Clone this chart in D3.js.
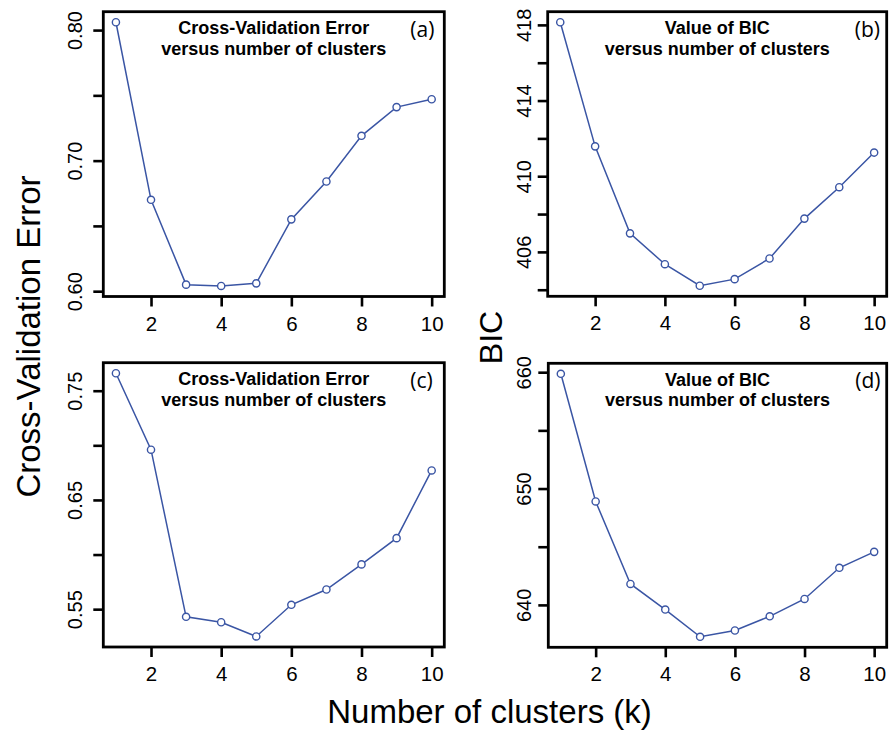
<!DOCTYPE html>
<html>
<head>
<meta charset="utf-8">
<script src="https://cdn.jsdelivr.net/npm/d3@7"></script>
<style>
  body { margin: 0; background: #fff; }
  svg { display: block; }
</style>
</head>
<body>
<svg id="chart"></svg>
<script>
const width = 891, height = 740

// number of clusters k
const kValues = [1, 2, 3, 4, 5, 6, 7, 8, 9, 10]
const xTicks = [2, 4, 6, 8, 10]

// panel values
const cvErrorA = [0.806, 0.670, 0.605, 0.604, 0.606, 0.655, 0.684, 0.719, 0.741, 0.747]
const bicB = [418.14, 411.58, 406.98, 405.35, 404.21, 404.56, 405.65, 407.76, 409.42, 411.25]
const cvErrorC = [0.766, 0.696, 0.543, 0.538, 0.525, 0.554, 0.568, 0.591, 0.615, 0.677]
const bicD = [659.86, 648.89, 641.80, 639.60, 637.26, 637.80, 639.02, 640.51, 643.19, 644.56]

const yTicksA = [0.60, 0.65, 0.70, 0.75, 0.80]
const yLabelsA = [0.60, 0.70, 0.80]
const yTicksB = [404, 406, 408, 410, 412, 414, 416, 418]
const yLabelsB = [406, 410, 414, 418]
const yTicksC = [0.55, 0.60, 0.65, 0.70, 0.75]
const yLabelsC = [0.55, 0.65, 0.75]
const yTicksD = [640, 645, 650, 655, 660]
const yLabelsD = [640, 650, 660]

const titleCV = ["Cross-Validation Error", "versus number of clusters"]
const titleBIC = ["Value of BIC", "versus number of clusters"]

const lineColor = "#3a55a4"

const panels = [
    { tag: "(a)", values: cvErrorA, ticks: yTicksA, labels: yLabelsA, fmt: d3.format(".2f"), title: titleCV,
      box: { left: 103.3, right: 444.3, top: 11.7, bottom: 296.5 }, labelGap: 21.6 },
    { tag: "(b)", values: bicB, ticks: yTicksB, labels: yLabelsB, fmt: d3.format("d"), title: titleBIC,
      box: { left: 547.7, right: 886.7, top: 11.7, bottom: 296.3 }, labelGap: 17 },
    { tag: "(c)", values: cvErrorC, ticks: yTicksC, labels: yLabelsC, fmt: d3.format(".2f"), title: titleCV,
      box: { left: 103.3, right: 444.3, top: 362.7, bottom: 647 }, labelGap: 21.6 },
    { tag: "(d)", values: bicD, ticks: yTicksD, labels: yLabelsD, fmt: d3.format("d"), title: titleBIC,
      box: { left: 548.3, right: 886.7, top: 363.3, bottom: 647.3 }, labelGap: 17 }
]

const svg = d3.select("#chart")
    .attr("width", width)
    .attr("height", height)
    .style("font-family", "'Liberation Sans', Arial, sans-serif")

// R style: pad the data range by 4% on each side
function padded(ext) {
    let d = (ext[1] - ext[0]) * 0.04
    return [ext[0] - d, ext[1] + d]
}

panels.forEach(p => {
    let b = p.box
    let x = d3.scaleLinear().domain(padded(d3.extent(kValues))).range([b.left, b.right])
    let y = d3.scaleLinear().domain(padded(d3.extent(p.values))).range([b.bottom, b.top])

    let g = svg.append("g")

    // x axis
    let xa = g.append("g")
        .attr("transform", `translate(0,${b.bottom})`)
        .call(d3.axisBottom(x).tickValues(xTicks).tickSize(10).tickPadding(4).tickFormat(d3.format("d")))
    xa.select(".domain").remove()
    xa.selectAll(".tick line").attr("stroke", "#000").attr("stroke-width", 2.6)
    xa.selectAll(".tick text")
        .attr("y", 34).attr("dy", null)
        .attr("font-size", 20.5).attr("fill", "#000")
        .style("font-family", "'Liberation Sans', Arial, sans-serif")

    // y axis, labels rotated like R's default
    let ya = g.append("g")
        .attr("transform", `translate(${b.left},0)`)
        .call(d3.axisLeft(y).tickValues(p.ticks).tickSize(10)
            .tickFormat(d => p.labels.some(v => Math.abs(v - d) < 1e-9) ? p.fmt(d) : ""))
    ya.select(".domain").remove()
    ya.selectAll(".tick line").attr("stroke", "#000").attr("stroke-width", 2.6)
    ya.selectAll(".tick text")
        .attr("x", null).attr("dy", null)
        .attr("transform", `translate(${-p.labelGap},0) rotate(-90)`)
        .attr("text-anchor", "middle")
        .attr("font-size", 20).attr("fill", "#000")
        .style("font-family", "'Liberation Sans', Arial, sans-serif")

    // series
    let line = d3.line()
        .x((d, i) => x(kValues[i]))
        .y(d => y(d))
    g.append("path")
        .datum(p.values)
        .attr("d", line)
        .attr("fill", "none")
        .attr("stroke", lineColor)
        .attr("stroke-width", 1.5)

    g.append("g")
        .selectAll("circle")
        .data(p.values)
        .enter()
        .append("circle")
        .attr("cx", (d, i) => x(kValues[i]))
        .attr("cy", d => y(d))
        .attr("r", 3.6)
        .attr("fill", "#fff")
        .attr("stroke", lineColor)
        .attr("stroke-width", 1.4)

    // frame
    g.append("rect")
        .attr("x", b.left).attr("y", b.top)
        .attr("width", b.right - b.left).attr("height", b.bottom - b.top)
        .attr("fill", "none")
        .attr("stroke", "#000")
        .attr("stroke-width", 2.8)

    // title inside the frame
    let cx = (b.left + b.right) / 2
    g.append("text")
        .attr("x", cx).attr("y", b.top + 22.5)
        .attr("text-anchor", "middle")
        .attr("font-weight", "bold")
        .attr("font-size", 18)
        .text(p.title[0])
    g.append("text")
        .attr("x", cx).attr("y", b.top + 43)
        .attr("text-anchor", "middle")
        .attr("font-weight", "bold")
        .attr("font-size", 18)
        .text(p.title[1])

    g.append("text")
        .attr("x", b.left + 307).attr("y", b.top + 25)
        .attr("font-size", 21)
        .style("font-family", "'Open Sans', sans-serif")
        .text(p.tag)
})

// shared axis titles
svg.append("text")
    .attr("transform", "translate(39.5,336.5) rotate(-90)")
    .attr("text-anchor", "middle")
    .attr("font-size", 33)
    .text("Cross-Validation Error")

svg.append("text")
    .attr("transform", "translate(501.5,337.5) rotate(-90)")
    .attr("text-anchor", "middle")
    .attr("font-size", 32)
    .text("BIC")

svg.append("text")
    .attr("x", 489.5).attr("y", 723)
    .attr("text-anchor", "middle")
    .attr("font-size", 33)
    .text("Number of clusters (k)")
</script>
</body>
</html>
